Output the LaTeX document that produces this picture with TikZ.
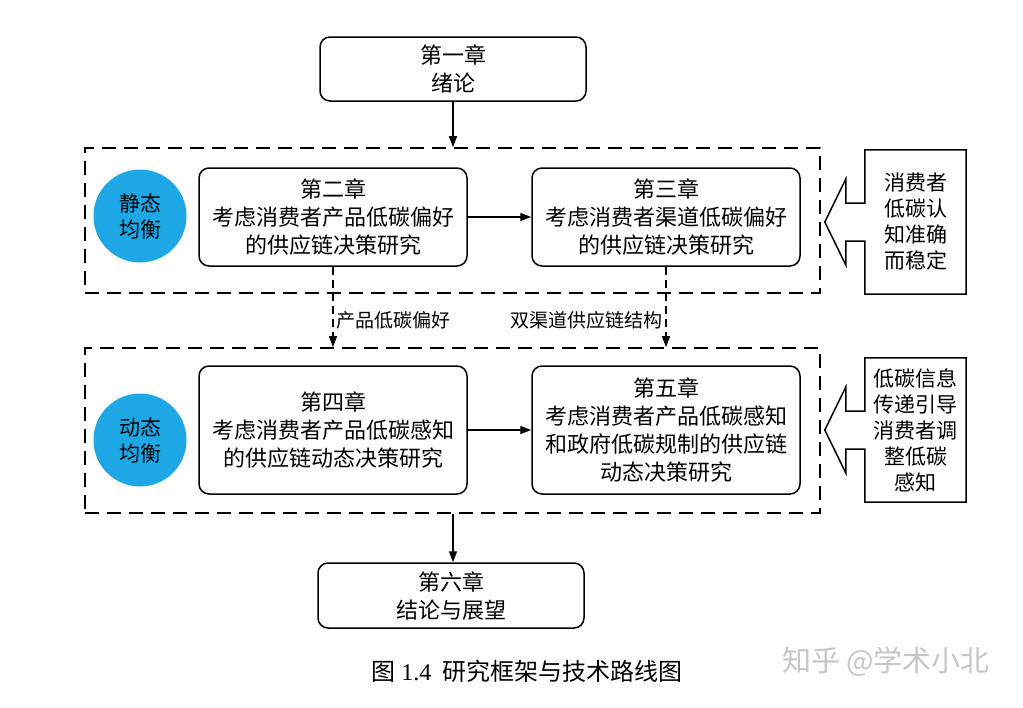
\documentclass[tikz,border=0pt]{standalone}
\usepackage{fontspec}
\setmainfont{Noto Sans CJK SC}
\newfontfamily\latin{Liberation Serif}
\usetikzlibrary{positioning, calc, arrows.meta}
\definecolor{circblue}{RGB}{29,167,228}
\tikzstyle{myarrow} = [-{Triangle[length=11pt,width=8pt]}, line width=1.4pt]
\tikzstyle{dasharrow} = [-{Triangle[length=11pt,width=8pt]}, line width=1.2pt, dash pattern=on 8pt off 5pt]
\tikzstyle{chapter} = [draw, rounded corners=10pt, line width=1.5pt, align=center, font=\fontsize{22}{28}\selectfont]
\tikzstyle{frame} = [draw, line width=1.6pt, dash pattern=on 14pt off 8pt]
\tikzstyle{balance} = [circle, fill=circblue, minimum size=93pt, align=center, font=\fontsize{21}{26}\selectfont]
\tikzstyle{note} = [rectangle, minimum width=101pt, minimum height=144pt, align=center, font=\fontsize{21}{26}\selectfont]
\tikzstyle{callout} = [line width=1.5pt, line join=miter]

\begin{document}
\begin{tikzpicture}[x=1pt, y=-1pt]
\useasboundingbox (0,0) rectangle (1023,707);

% chapters
\node(ch1)[chapter, minimum width=266pt, minimum height=64pt] at (453,69) {第一章\\绪论};
\node(ch2)[chapter, minimum width=268pt, minimum height=98pt] at (333,217) {第二章\\考虑消费者产品低碳偏好\\的供应链决策研究};
\node(ch3)[chapter, minimum width=268pt, minimum height=98pt] at (666,217) {第三章\\考虑消费者渠道低碳偏好\\的供应链决策研究};
\node(ch4)[chapter, minimum width=268pt, minimum height=128pt] at (333,430) {第四章\\考虑消费者产品低碳感知\\的供应链动态决策研究};
\node(ch5)[chapter, minimum width=268pt, minimum height=128pt] at (666,430) {第五章\\考虑消费者产品低碳感知\\和政府低碳规制的供应链\\动态决策研究};
\node(ch6)[chapter, minimum width=266pt, minimum height=65pt] at (451,595.5) {第六章\\结论与展望};

% dashed frames
\node(frame1)[frame, minimum width=735pt, minimum height=145pt] at (452.5,220.5) {};
\node(frame2)[frame, minimum width=735pt, minimum height=165pt] at (452.5,430.5) {};

\node(circ1)[balance] at (140,216) {静态\\均衡};
\node(circ2)[balance] at (140,440) {动态\\均衡};

% side notes
\node(note1)[note] at (915.5,222) {消费者\\低碳认\\知准确\\而稳定};
\node(note2)[note] at (915.5,430) {低碳信息\\传递引导\\消费者调\\整低碳\\感知};
\draw[callout] ($(note1.west)+(0,-19)$) -- (note1.north west) -- (note1.north east) -- (note1.south east) -- (note1.south west) -- ($(note1.west)+(0,19)$) -- ++(-19,0) -- ++(0,24) -- ($(note1.west)+(-40,0)$) -- ($(note1.west)+(-19,-43)$) -- ++(0,24) -- cycle;
\draw[callout] ($(note2.west)+(0,-19)$) -- (note2.north west) -- (note2.north east) -- (note2.south east) -- (note2.south west) -- ($(note2.west)+(0,19)$) -- ++(-19,0) -- ++(0,24) -- ($(note2.west)+(-40,0)$) -- ($(note2.west)+(-19,-43)$) -- ++(0,24) -- cycle;

% arrows
\draw [myarrow]  (ch1.south) -- (ch1.south |- frame1.north);
\draw [myarrow]  (ch2.east) -- (ch3.west);
\draw [myarrow]  (ch4.east) -- (ch5.west);
\draw [myarrow]  (frame2.south -| ch1.south) -- (ch1.south |- ch6.north);
\draw [dasharrow]  (ch2.south) -- node[pos=0.67, right, font=\fontsize{19}{22}\selectfont]{产品低碳偏好} (ch2.south |- frame2.north);
\draw [dasharrow]  (ch3.south) -- node[pos=0.67, left, font=\fontsize{19}{22}\selectfont]{双渠道供应链结构} (ch3.south |- frame2.north);

% caption
\node(caption)[font=\fontsize{24}{28}\selectfont] at (527,671) {图 {\latin 1.4}\ \ 研究框架与技术路线图};
\node(mark)[font=\fontsize{29}{32}\selectfont, text=gray!45] at (886,662) {知乎 @学术小北};
\end{tikzpicture}
\end{document}
